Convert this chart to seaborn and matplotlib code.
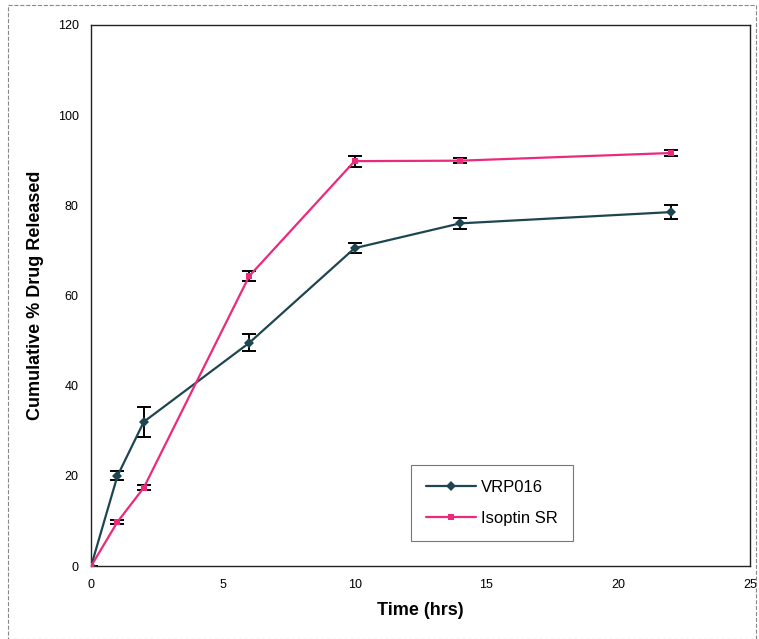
import numpy as np
import pandas as pd
import matplotlib
matplotlib.use("Agg")
import matplotlib.pyplot as plt
import seaborn as sns

time_hrs = [0, 1, 2, 6, 10, 14, 22]
vrp016 = [0, 20.0, 32.0, 49.5, 70.5, 76.0, 78.5]
vrp016_err = [0, 1.0, 3.3, 1.9, 1.1, 1.2, 1.6]
isoptin = [0, 9.8, 17.4, 64.3, 89.8, 89.9, 91.6]
isoptin_err = [0, 0.5, 0.5, 1.1, 1.2, 0.5, 0.7]
series_names = ["VRP016", "Isoptin SR"]
x_ticks = [0, 5, 10, 15, 20, 25]
y_ticks = [0, 20, 40, 60, 80, 100, 120]

sns.set_style("white")
plt.rcParams['font.family'] = ['Liberation Sans', 'DejaVu Sans']
plt.rcParams['text.color'] = 'black'
plt.rcParams['axes.labelcolor'] = 'black'
plt.rcParams['xtick.color'] = 'black'
plt.rcParams['ytick.color'] = 'black'

df = pd.DataFrame({
    "Time": time_hrs * 2,
    "Release": vrp016 + isoptin,
    "Err": vrp016_err + isoptin_err,
    "Series": [series_names[0]] * len(time_hrs) + [series_names[1]] * len(time_hrs),
})

colors = {"VRP016": "#1e4650", "Isoptin SR": "#ec2a7c"}
markers = {"VRP016": "D", "Isoptin SR": "s"}

fig = plt.figure(figsize=(7.59, 6.39), dpi=100)
ax = fig.add_axes([0.12, 0.114, 0.868, 0.847])

for name in series_names:
    sub = df[df["Series"] == name]
    ax.errorbar(sub["Time"], sub["Release"], yerr=sub["Err"], fmt="none",
                ecolor="black", elinewidth=1.4, capsize=5, capthick=1.4, zorder=2)

sns.lineplot(data=df, x="Time", y="Release", hue="Series", style="Series",
             palette=colors, markers=markers, dashes=False, markersize=5,
             linewidth=1.6, markeredgewidth=0, errorbar=None, ax=ax, zorder=3)

ax.set_xlim(0, 25)
ax.set_ylim(0, 120)
ax.set_xticks(x_ticks)
ax.set_yticks(y_ticks)
ax.tick_params(axis="both", labelsize=9, length=3, direction="out", pad=6)
ax.set_xlabel("Time (hrs)", fontsize=13, fontweight="bold", labelpad=8)
ax.set_ylabel("Cumulative % Drug Released", fontsize=13, fontweight="bold", labelpad=10)
for s in ax.spines.values():
    s.set_color("#222222")
    s.set_linewidth(1.0)

leg = ax.legend(loc="lower left", bbox_to_anchor=(0.486, 0.046), borderaxespad=0,
                fontsize=12, frameon=True, fancybox=False, edgecolor="#555555",
                borderpad=0.9, labelspacing=1.0, handlelength=3.0, handletextpad=0.3)
leg.get_frame().set_linewidth(0.8)

fig.patches.append(plt.Rectangle((0.011, 0.0), 0.985, 0.992, transform=fig.transFigure,
                                 fill=False, edgecolor="#888888", linewidth=0.8, linestyle="--"))

fig.savefig("out.png", dpi=100)
